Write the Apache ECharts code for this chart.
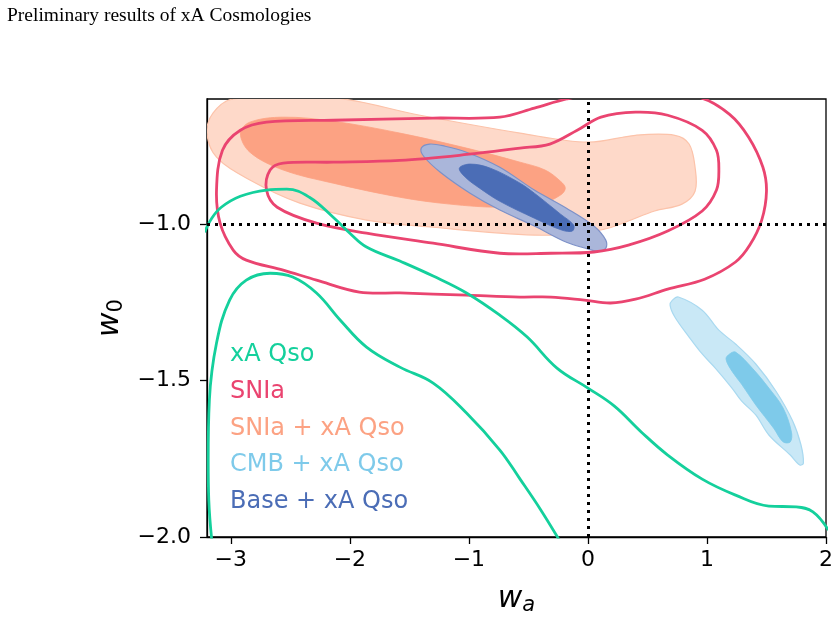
<!DOCTYPE html>
<html>
<head>
<meta charset="utf-8">
<title>xA Cosmologies</title>
<script src="https://cdn.jsdelivr.net/npm/echarts@6/dist/echarts.min.js"></script>
<style>
  html, body { margin: 0; padding: 0; background: #fff; }
  #chart { width: 837px; height: 621px; }
</style>
</head>
<body>
<div id="chart"></div>
<script>
// tick labels
const waTicks = [-3, -2, -1, 0, 1, 2];
const w0Ticks = [-2.0, -1.5, -1.0];
const waRange = [-3.2, 2];
const w0Range = [-2.0, -0.6];
// LCDM reference lines
const waRef = 0;
const w0Ref = -1;

// contours, points are [wa, w0]
const snxa2 = [
  [-2.98, -0.60], [-2.14, -0.596], [-1.41, -0.652], [-0.57, -0.709], [0.0, -0.738],
  [0.40, -0.716], [0.73, -0.716], [0.85, -0.744], [0.90, -0.818], [0.90, -0.895],
  [0.79, -0.936], [0.56, -0.958], [0.34, -0.990], [0.17, -1.013], [-0.06, -1.029],
  [-0.45, -1.035], [-1.30, -1.010], [-1.86, -0.987], [-2.42, -0.933], [-2.84, -0.859],
  [-3.12, -0.786], [-3.20, -0.709], [-3.15, -0.645]
];
const snxa1 = [
  [-2.92, -0.709], [-2.84, -0.674], [-2.56, -0.658], [-2.14, -0.671], [-1.58, -0.709],
  [-1.02, -0.757], [-0.57, -0.802], [-0.36, -0.827], [-0.23, -0.863], [-0.19, -0.885],
  [-0.23, -0.907], [-0.40, -0.936], [-0.74, -0.946], [-1.16, -0.936], [-1.58, -0.914],
  [-2.14, -0.869], [-2.56, -0.827], [-2.84, -0.770]
];
const base2 = [
  [-1.40, -0.757], [-1.33, -0.744], [-1.20, -0.751], [-1.02, -0.770], [-0.74, -0.818],
  [-0.45, -0.891], [-0.18, -0.949], [0.05, -1.006], [0.15, -1.051], [0.15, -1.077],
  [0.08, -1.086], [-0.02, -1.077], [-0.18, -1.058], [-0.45, -1.006], [-0.74, -0.955],
  [-0.99, -0.901], [-1.24, -0.834], [-1.38, -0.783]
];
const base1 = [
  [-1.08, -0.821], [-0.99, -0.808], [-0.82, -0.821], [-0.57, -0.869], [-0.45, -0.901],
  [-0.23, -0.968], [-0.12, -1.003], [-0.13, -1.022], [-0.22, -1.019], [-0.45, -0.981],
  [-0.74, -0.927], [-0.91, -0.885], [-1.03, -0.850]
];
const cmb2 = [
  [0.71, -1.243], [0.76, -1.233], [0.96, -1.275], [1.10, -1.339], [1.24, -1.383],
  [1.41, -1.447], [1.58, -1.534], [1.72, -1.629], [1.79, -1.706], [1.81, -1.764],
  [1.78, -1.770], [1.70, -1.738], [1.52, -1.674], [1.41, -1.610], [1.29, -1.565],
  [1.21, -1.524], [1.07, -1.460], [0.96, -1.415], [0.85, -1.361], [0.73, -1.297],
  [0.69, -1.259]
];
const cmb1 = [
  [1.19, -1.415], [1.24, -1.409], [1.38, -1.460], [1.52, -1.524], [1.64, -1.588],
  [1.71, -1.665], [1.70, -1.696], [1.64, -1.696], [1.56, -1.652], [1.41, -1.578],
  [1.29, -1.511], [1.21, -1.470], [1.16, -1.431]
];
const sn1 = [
  [-0.57, -0.757], [-0.32, -0.744], [-0.09, -0.700], [0.11, -0.658], [0.40, -0.642],
  [0.67, -0.652], [0.96, -0.700], [1.08, -0.764], [1.10, -0.827], [1.08, -0.891],
  [0.96, -0.958], [0.67, -1.022], [0.34, -1.067], [0.05, -1.089], [-0.31, -1.093],
  [-0.74, -1.093], [-1.30, -1.061], [-1.86, -1.029], [-2.28, -0.997], [-2.61, -0.946],
  [-2.70, -0.891], [-2.67, -0.827], [-2.56, -0.805], [-2.14, -0.802], [-1.58, -0.796],
  [-1.08, -0.780]
];
const sn2 = [
  [-0.74, -0.658], [-0.45, -0.629], [-0.18, -0.600], [0.10, -0.580], [0.52, -0.575],
  [0.94, -0.595], [1.19, -0.649], [1.35, -0.722], [1.47, -0.818], [1.50, -0.895],
  [1.46, -0.987], [1.36, -1.067], [1.24, -1.121], [0.98, -1.176], [0.67, -1.208],
  [0.40, -1.240], [0.19, -1.252], [-0.03, -1.243], [-0.31, -1.233], [-0.57, -1.233],
  [-1.02, -1.227], [-1.58, -1.220], [-1.92, -1.217], [-2.28, -1.179], [-2.56, -1.147],
  [-2.87, -1.115], [-2.98, -1.083], [-3.09, -0.997], [-3.12, -0.891], [-3.07, -0.764],
  [-2.92, -0.700], [-2.70, -0.674], [-2.14, -0.668], [-1.30, -0.661]
];
const qso1 = [
  [-3.22, -1.026], [-3.16, -0.981], [-3.08, -0.946], [-2.92, -0.911], [-2.70, -0.891],
  [-2.53, -0.888], [-2.34, -0.914], [-2.14, -0.978], [-2.00, -1.029], [-1.86, -1.073],
  [-1.58, -1.118], [-1.30, -1.166], [-1.02, -1.220], [-0.74, -1.291], [-0.51, -1.361],
  [-0.26, -1.460], [0.0, -1.524], [0.22, -1.581], [0.45, -1.665], [0.67, -1.738],
  [0.96, -1.815], [1.24, -1.866], [1.52, -1.901], [1.75, -1.904], [1.89, -1.920],
  [2.02, -1.978]
];
const qso2 = [
  [-3.16, -2.010], [-3.185, -1.882], [-3.19, -1.754], [-3.18, -1.562], [-3.12, -1.380],
  [-3.01, -1.243], [-2.87, -1.179], [-2.67, -1.157], [-2.48, -1.169], [-2.28, -1.220],
  [-2.08, -1.307], [-1.86, -1.393], [-1.58, -1.457], [-1.30, -1.508], [-1.02, -1.604],
  [-0.74, -1.722], [-0.57, -1.815], [-0.40, -1.911], [-0.24, -2.010]
];

const cGreen = '#14d09c';
const cRed = '#ea4470';
const cOrange = '#fca283';
const cSky = '#7ecaea';
const cBlue = '#4b6db6';

const myChart = echarts.init(document.getElementById('chart'));

// closed contour drawn through the axes
function contour(name, pts, fill, stroke, lw) {
  return {
    name: name,
    type: 'custom',
    clip: true,
    data: [[-1, -1]],
    encode: { x: 0, y: 1 },
    renderItem: function (params, api) {
      return {
        type: 'polygon',
        shape: { points: pts.map(function (p) { return api.coord(p); }), smooth: 0.35 },
        style: { fill: fill, stroke: stroke, lineWidth: lw }
      };
    }
  };
}

function curve(name, pts) {
  return {
    name: name,
    type: 'line',
    data: pts,
    smooth: 0.4,
    showSymbol: false,
    clip: true,
    lineStyle: { color: cGreen, width: 2.8 },
    itemStyle: { color: cGreen }
  };
}

const axisFont = { fontFamily: 'DejaVu Sans', fontSize: 22, color: '#000' };

let option = {
  animation: false,
  title: {
    text: 'Preliminary results of xA Cosmologies',
    left: 2, top: 1,
    textStyle: { fontFamily: 'Liberation Serif', fontSize: 19.5, fontWeight: 'normal', color: '#000' }
  },
  grid: {
    left: 207, right: 11, top: 99, bottom: 84,
    show: true, borderColor: '#000', borderWidth: 1.3, backgroundColor: 'transparent'
  },
  legend: {
    orient: 'vertical',
    left: 220, top: 338,
    itemGap: 12.7,
    itemWidth: 0, itemHeight: 0,
    icon: 'none',
    selectedMode: false,
    textStyle: { fontFamily: 'DejaVu Sans', fontSize: 24 },
    data: [
      { name: 'xA Qso', textStyle: { color: cGreen } },
      { name: 'SNIa', textStyle: { color: cRed } },
      { name: 'SNIa + xA Qso', textStyle: { color: cOrange } },
      { name: 'CMB + xA Qso', textStyle: { color: cSky } },
      { name: 'Base + xA Qso', textStyle: { color: cBlue } }
    ]
  },
  xAxis: {
    type: 'value',
    min: waRange[0], max: waRange[1],
    name: '{w|w}{s|a}',
    nameLocation: 'middle',
    nameGap: 46,
    nameTextStyle: {
      rich: {
        w: { fontFamily: 'DejaVu Sans', fontStyle: 'italic', fontSize: 30, color: '#000' },
        s: { fontFamily: 'DejaVu Sans', fontStyle: 'italic', fontSize: 21, color: '#000', padding: [12, 0, 0, 0] }
      }
    },
    splitLine: { show: false },
    axisLine: { onZero: false, lineStyle: { color: '#000', width: 1.3 } },
    axisTick: { customValues: waTicks, length: 7, lineStyle: { color: '#000', width: 1.3 } },
    axisLabel: {
      customValues: waTicks, margin: 12,
      formatter: function (v) { return String(v).replace('-', '\u2212'); },
      ...axisFont
    }
  },
  yAxis: {
    type: 'value',
    min: w0Range[0], max: w0Range[1],
    name: '{w|w}{s|0}',
    nameLocation: 'middle',
    nameRotate: 90,
    nameGap: 76,
    nameTextStyle: {
      rich: {
        w: { fontFamily: 'DejaVu Sans', fontStyle: 'italic', fontSize: 30, color: '#000' },
        s: { fontFamily: 'DejaVu Sans', fontSize: 21, color: '#000', padding: [12, 0, 0, 0] }
      }
    },
    splitLine: { show: false },
    axisLine: { onZero: false, lineStyle: { color: '#000', width: 1.3 } },
    axisTick: { customValues: w0Ticks, length: 7, lineStyle: { color: '#000', width: 1.3 } },
    axisLabel: {
      customValues: w0Ticks, margin: 16,
      formatter: function (v) { return v.toFixed(1).replace('-', '\u2212'); },
      ...axisFont
    }
  },
  series: [
    contour('SNIa + xA Qso', snxa2, '#fed9c9', '#fcc3aa', 1.2),
    contour('SNIa + xA Qso', snxa1, cOrange, cOrange, 0.8),
    contour('Base + xA Qso', base2, '#aab6da', '#7d91c8', 1.2),
    contour('Base + xA Qso', base1, cBlue, cBlue, 0.8),
    contour('CMB + xA Qso', cmb2, '#c9e8f6', '#a9d9f0', 1.2),
    contour('CMB + xA Qso', cmb1, cSky, cSky, 0.8),
    contour('SNIa', sn1, 'none', cRed, 2.8),
    contour('SNIa', sn2, 'none', cRed, 2.8),
    curve('xA Qso', qso1),
    curve('xA Qso', qso2),
    {
      type: 'line',
      data: [],
      z: 10,
      markLine: {
        silent: true,
        symbol: 'none',
        animation: false,
        label: { show: false },
        lineStyle: { color: '#000', width: 3, type: [3, 5] },
        data: [{ xAxis: waRef }, { yAxis: w0Ref }]
      }
    }
  ]
};

myChart.setOption(option);
</script>
</body>
</html>
